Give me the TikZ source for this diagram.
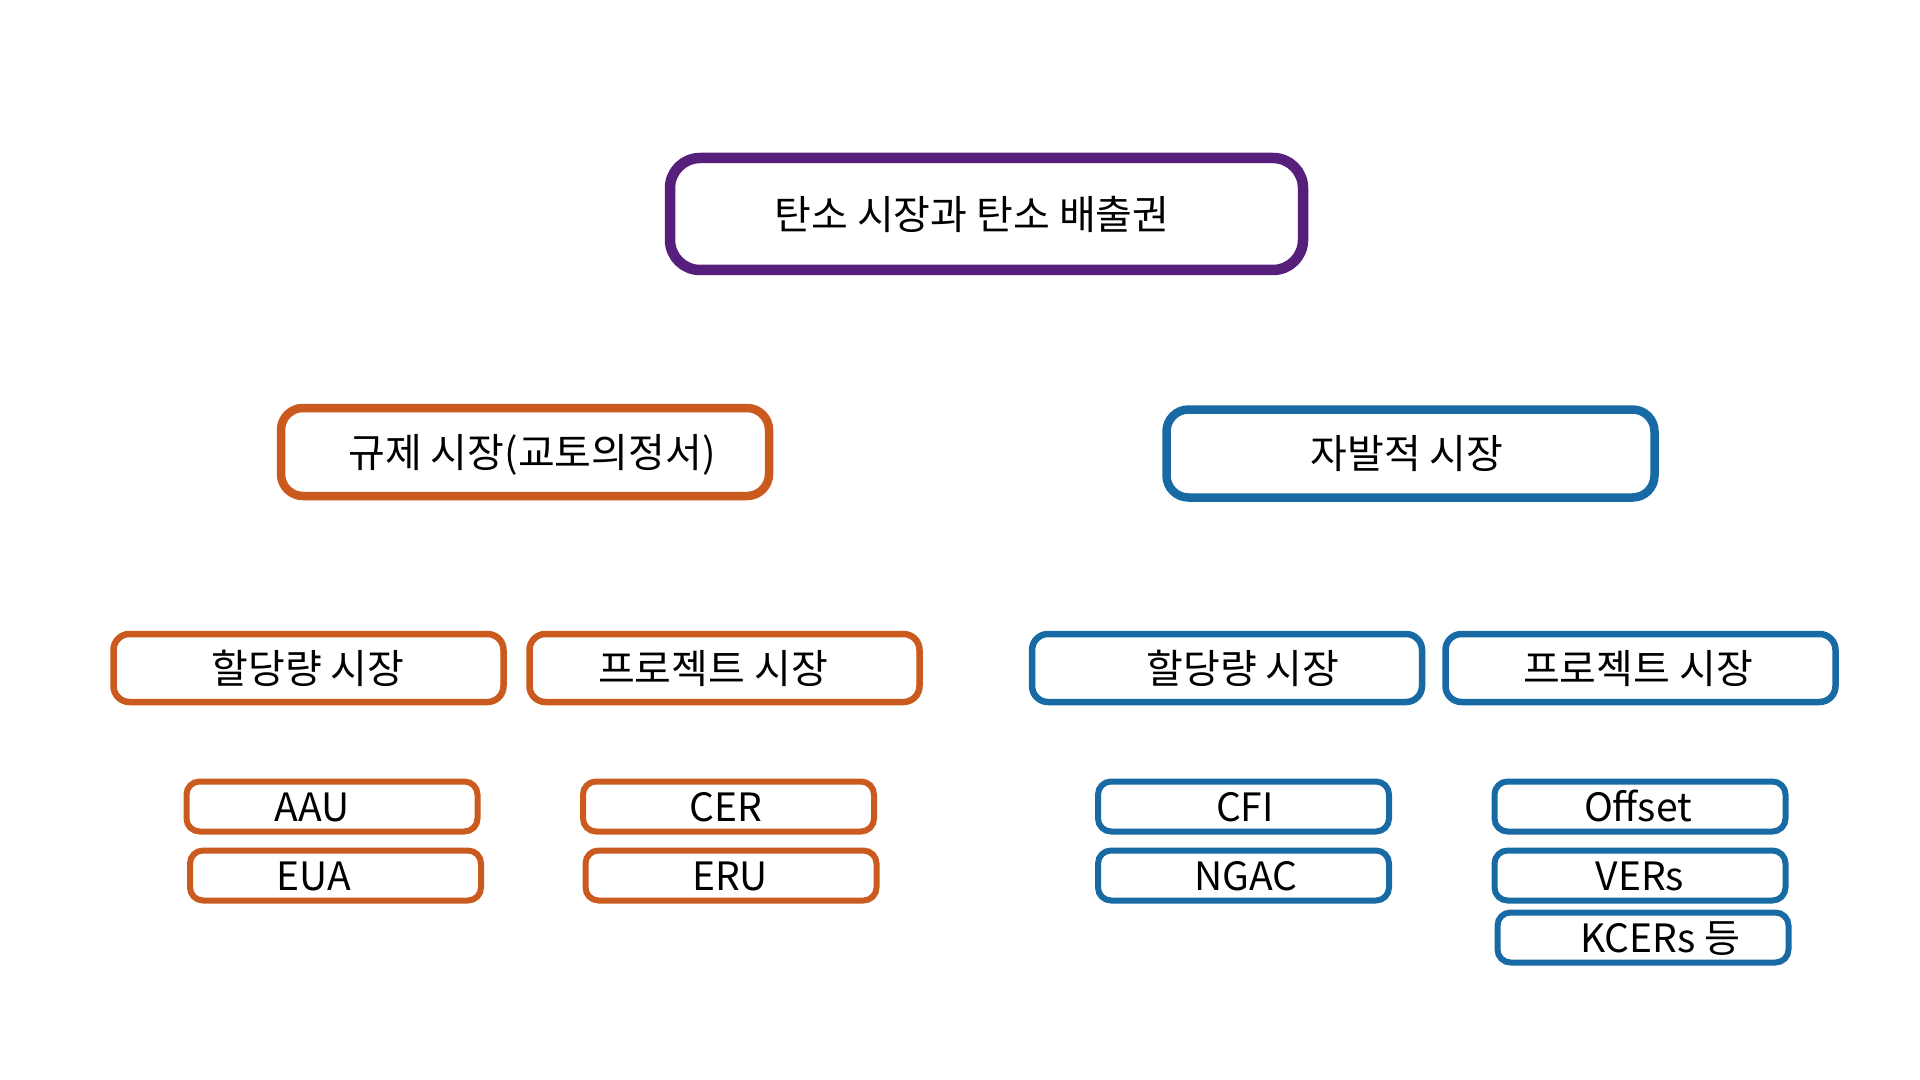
\documentclass[tikz,border=0pt]{standalone}
\usepackage{fontspec}
\setmainfont{Noto Sans CJK KR}
\definecolor{cpurple}{HTML}{561F7B}
\definecolor{corange}{HTML}{CB5A1E}
\definecolor{cblue}{HTML}{176AA3}
\tikzset{
  lvA/.style={draw=cpurple, line width=5.25pt, rounded corners=15pt, fill=white,
    minimum width=316.5pt, minimum height=56pt, inner sep=0pt},
  lvB/.style={line width=4.25pt, rounded corners=11pt, fill=white,
    minimum width=244pt, minimum height=44pt, inner sep=0pt},
  lvC/.style={line width=3.25pt, rounded corners=8pt, fill=white,
    minimum width=195pt, minimum height=34pt, inner sep=0pt},
  lvD/.style={line width=3pt, rounded corners=6.5pt, fill=white,
    minimum width=145.5pt, minimum height=25pt, inner sep=0pt},
  txt/.style={inner sep=0pt, text depth=0pt, anchor=center},
  tA/.style={txt, text height=15.2pt, font=\fontsize{20pt}{24pt}\selectfont},
  tB/.style={txt, text height=15.2pt, font=\fontsize{20pt}{24pt}\selectfont},
  tD/.style={txt, text height=14.6pt, font=\fontsize{19.5pt}{23pt}\selectfont},
}
\begin{document}
\begin{tikzpicture}[x=0.5pt, y=-0.5pt]
\useasboundingbox (0,0) rectangle (1920,1080);
% level 1
\node[lvA] (top) at (986.5,214) {};
\node[tA] (ttop) at (972,214) {탄소 시장과 탄소 배출권};
% level 2
\node[lvB, draw=corange] (reg) at (525,452) {};
\node[tB] (treg) at (532,452) {규제 시장(교토의정서)};
\node[lvB, draw=cblue] (vol) at (1410.5,453.5) {};
\node[tB] (tvol) at (1407,453.5) {자발적 시장};
% level 3
\node[lvC, draw=corange] (ra) at (308.5,668) {};
\node[tB] (tra) at (308,668) {할당량 시장};
\node[lvC, draw=corange] (rp) at (724.5,668) {};
\node[tB] (trp) at (713,668) {프로젝트 시장};
\node[lvC, draw=cblue] (va) at (1227,668) {};
\node[tB] (tva) at (1243,668) {할당량 시장};
\node[lvC, draw=cblue] (vp) at (1640.5,668) {};
\node[tB] (tvp) at (1638,668) {프로젝트 시장};
% level 4
\node[lvD, draw=corange] (aau) at (332,806.5) {};
\node[tD] (taau) at (312,806.5) {AAU};
\node[lvD, draw=corange] (eua) at (335.5,875.5) {};
\node[tD] (teua) at (314,875.5) {EUA};
\node[lvD, draw=corange] (cer) at (728.5,806.5) {};
\node[tD] (tcer) at (726,806.5) {CER};
\node[lvD, draw=corange] (eru) at (731,875.5) {};
\node[tD] (teru) at (730,875.5) {ERU};
\node[lvD, draw=cblue] (cfi) at (1243.5,806.5) {};
\node[tD] (tcfi) at (1245,806.5) {CFI};
\node[lvD, draw=cblue] (ngac) at (1243.5,875.5) {};
\node[tD] (tngac) at (1246,875.5) {NGAC};
\node[lvD, draw=cblue] (off) at (1640,806.5) {};
\node[tD] (toff) at (1638,806.5) {Offset};
\node[lvD, draw=cblue] (ver) at (1640,875.5) {};
\node[tD] (tver) at (1640,875.5) {VERs};
\node[lvD, draw=cblue] (kce) at (1643,937.5) {};
\node[tD] (tkce) at (1660,937.5) {KCERs 등};
\end{tikzpicture}
\end{document}
